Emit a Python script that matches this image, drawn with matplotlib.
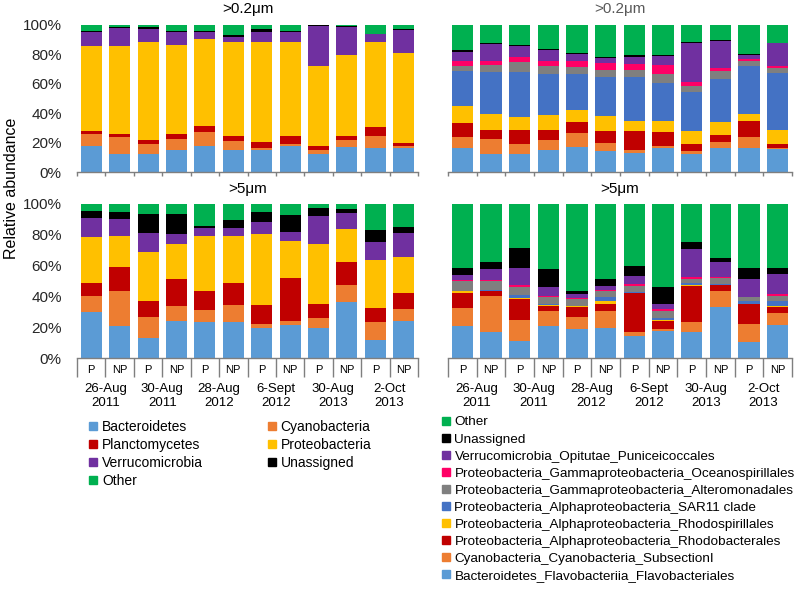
import numpy as np
import matplotlib
matplotlib.use("Agg")
import matplotlib.pyplot as plt
from matplotlib.lines import Line2D
from matplotlib.transforms import blended_transform_factory

plt.rcParams['font.family'] = ['Liberation Sans', 'DejaVu Sans']

# ---- data -----------------------------------------------------------
samples = ['P', 'NP'] * 6
dates = ['26-Aug\n2011', '30-Aug\n2011', '28-Aug\n2012',
         '6-Sept\n2012', '30-Aug\n2013', '2-Oct\n2013']

phyla = ['Bacteroidetes', 'Cyanobacteria', 'Planctomycetes', 'Proteobacteria',
         'Verrucomicrobia', 'Unassigned', 'Other']
phyla_colors = ['#5B9BD5', '#ED7D31', '#C00000', '#FFC000',
                '#7030A0', '#000000', '#00B050']

orders = ['Bacteroidetes_Flavobacteriia_Flavobacteriales',
          'Cyanobacteria_Cyanobacteria_SubsectionI',
          'Proteobacteria_Alphaproteobacteria_Rhodobacterales',
          'Proteobacteria_Alphaproteobacteria_Rhodospirillales',
          'Proteobacteria_Alphaproteobacteria_SAR11 clade',
          'Proteobacteria_Gammaproteobacteria_Alteromonadales',
          'Proteobacteria_Gammaproteobacteria_Oceanospirillales',
          'Verrucomicrobia_Opitutae_Puniceicoccales',
          'Unassigned', 'Other']
order_colors = ['#5B9BD5', '#ED7D31', '#C00000', '#FFC000', '#4472C4',
                '#7F7F7F', '#FF0066', '#7030A0', '#000000', '#00B050']

# one row per bar, columns in the order of `phyla`
phyla_02 = [
    [17.7, 8.4, 1.6, 58.0, 9.3, 0.7, 4.3],
    [12.5, 11.4, 2.2, 59.6, 12.0, 0.7, 1.6],
    [12.5, 6.4, 2.9, 66.6, 8.9, 1.1, 1.6],
    [15.2, 7.3, 3.2, 60.4, 8.9, 0.7, 4.3],
    [17.7, 9.6, 3.8, 59.1, 5.0, 0.7, 4.1],
    [14.8, 6.6, 3.4, 63.6, 3.6, 1.4, 6.6],
    [14.8, 1.6, 3.8, 68.2, 6.8, 1.8, 3.0],
    [17.7, 1.6, 5.0, 64.1, 6.8, 0.9, 3.9],
    [12.5, 2.3, 2.9, 54.3, 27.5, 0.5, 0.0],
    [17.0, 4.6, 3.2, 55.0, 19.1, 0.6, 0.5],
    [16.4, 8.4, 5.9, 57.7, 5.7, 0.0, 5.9],
    [16.0, 1.5, 2.1, 61.1, 15.9, 0.7, 2.7],
]
phyla_5 = [
    [29.6, 10.8, 8.6, 29.4, 12.3, 5.0, 4.3],
    [20.5, 22.7, 15.8, 20.5, 10.8, 4.7, 5.0],
    [13.0, 13.6, 10.1, 32.4, 11.9, 12.5, 6.5],
    [23.8, 9.7, 17.7, 22.9, 6.5, 12.9, 6.5],
    [23.3, 8.0, 12.3, 35.9, 4.7, 1.8, 14.0],
    [23.3, 11.0, 14.3, 30.9, 5.2, 4.9, 10.4],
    [19.4, 2.8, 12.1, 46.0, 7.8, 6.9, 5.0],
    [21.6, 2.2, 28.0, 24.4, 5.9, 10.8, 7.1],
    [19.4, 6.3, 9.5, 38.7, 18.5, 4.8, 2.8],
    [36.3, 10.8, 15.5, 21.2, 10.6, 2.4, 3.2],
    [11.9, 11.4, 9.1, 31.3, 11.9, 7.6, 16.8],
    [23.8, 7.9, 10.8, 22.9, 15.6, 3.9, 15.1],
]
# one row per bar, columns in the order of `orders`
orders_02 = [
    [16.4, 7.2, 10.0, 11.2, 24.1, 3.4, 3.4, 6.1, 0.9, 17.3],
    [12.0, 10.5, 6.4, 10.4, 28.9, 4.5, 2.8, 11.3, 0.7, 12.5],
    [12.5, 6.4, 9.5, 9.3, 30.5, 6.3, 3.9, 7.5, 0.7, 13.4],
    [14.8, 6.8, 6.8, 10.2, 28.0, 5.4, 3.5, 7.5, 0.6, 16.4],
    [17.0, 9.6, 7.5, 8.4, 24.1, 5.0, 3.9, 4.7, 0.7, 19.1],
    [14.1, 5.9, 7.7, 10.5, 26.1, 5.0, 5.0, 3.4, 0.7, 21.6],
    [13.2, 1.6, 12.9, 7.1, 29.5, 5.0, 4.1, 4.6, 1.5, 20.5],
    [16.4, 1.3, 9.6, 7.5, 25.9, 5.9, 6.1, 6.2, 0.9, 20.2],
    [12.0, 2.3, 5.0, 8.4, 26.4, 4.5, 2.8, 26.6, 0.6, 11.4],
    [16.4, 4.1, 4.5, 9.1, 29.1, 5.4, 1.9, 18.6, 0.7, 10.2],
    [16.4, 7.2, 11.2, 4.5, 33.0, 3.2, 1.3, 2.7, 0.5, 20.0],
    [15.5, 0.9, 2.9, 9.1, 39.1, 3.0, 1.5, 15.5, 0.0, 12.5],
]
orders_5 = [
    [21.0, 11.2, 10.3, 1.1, 0.2, 5.9, 1.1, 3.2, 4.7, 41.3],
    [17.1, 22.9, 3.2, 0.6, 0.5, 5.4, 1.1, 7.1, 4.7, 37.4],
    [10.8, 14.0, 13.6, 0.7, 1.9, 5.4, 1.1, 11.2, 13.0, 28.3],
    [21.0, 9.2, 3.3, 0.6, 0.7, 4.7, 0.9, 5.4, 11.9, 42.3],
    [18.8, 7.8, 6.2, 0.7, 0.4, 4.3, 0.9, 2.4, 2.1, 56.4],
    [19.4, 11.3, 4.5, 1.5, 2.6, 3.9, 1.1, 2.6, 4.5, 48.6],
    [14.5, 2.6, 25.0, 0.4, 0.5, 3.9, 1.1, 5.5, 6.3, 40.2],
    [17.3, 1.5, 5.0, 1.0, 1.1, 4.3, 1.5, 3.3, 10.8, 54.2],
    [17.1, 6.4, 23.4, 0.8, 0.9, 2.8, 0.9, 18.5, 4.8, 24.4],
    [33.0, 10.8, 3.3, 0.6, 0.5, 3.6, 1.1, 9.3, 3.0, 34.8],
    [10.4, 11.8, 12.6, 0.4, 1.7, 2.4, 0.6, 11.3, 7.5, 41.3],
    [21.6, 7.6, 3.8, 0.7, 3.0, 3.7, 0.9, 13.3, 4.1, 41.3],
]

# ---- figure ---------------------------------------------------------
W, H = 800, 596
fig = plt.figure(figsize=(W / 100, H / 100), dpi=100)
AXIS_GREY = '#7F7F7F'


def px_axes(x0, x1, ytop, ybot):
    return fig.add_axes([x0 / W, 1 - ybot / H, (x1 - x0) / W, (ybot - ytop) / H])


def stacked(ax, data, colors):
    data = np.array(data)
    x = np.arange(data.shape[0])
    bottom = np.zeros(data.shape[0])
    for k in range(data.shape[1]):
        ax.bar(x, data[:, k], bottom=bottom, width=0.74, color=colors[k],
               linewidth=0)
        bottom += data[:, k]
    ax.set_xlim(-0.5, len(x) - 0.5)
    ax.set_ylim(0, 100)
    for s in ['left', 'right', 'top']:
        ax.spines[s].set_visible(False)
    ax.spines['bottom'].set_color(AXIS_GREY)
    ax.spines['bottom'].set_linewidth(1.0)
    ax.set_yticks([0, 20, 40, 60, 80, 100])
    ax.tick_params(axis='y', length=0, pad=11, labelsize=11, colors='#262626')
    ax.set_xticks(np.arange(-0.5, len(x), 1.0))
    ax.set_xticklabels([])
    ax.tick_params(axis='x', which='major', direction='out', length=3,
                   color=AXIS_GREY, width=1.0)


ax_tl = px_axes(77, 418, 25, 172)
ax_tr = px_axes(448, 792, 25, 172)
ax_bl = px_axes(77, 418, 204, 358)
ax_br = px_axes(448, 792, 204, 358)

stacked(ax_tl, phyla_02, phyla_colors)
stacked(ax_tr, orders_02, order_colors)
stacked(ax_bl, phyla_5, phyla_colors)
stacked(ax_br, orders_5, order_colors)

for ax in (ax_tl, ax_bl):
    ax.set_yticklabels([f'{v}%' for v in range(0, 101, 20)])
for ax in (ax_tr, ax_br):
    ax.set_yticklabels([])

# titles
ax_tl.set_title('>0.2μm', fontsize=11, pad=9, color='#000000')
ax_tr.set_title('>0.2μm', fontsize=11, pad=9, color='#595959')
ax_bl.set_title('>5μm', fontsize=11, pad=8, color='#000000')
ax_br.set_title('>5μm', fontsize=11, pad=8, color='#000000')

# multi-level category axis on the bottom panels
for ax in (ax_bl, ax_br):
    ax.tick_params(axis='x', which='major', length=14, color=AXIS_GREY)
    ax.set_xticks(np.arange(len(samples)), minor=True)
    ax.set_xticklabels(samples, minor=True)
    ax.tick_params(axis='x', which='minor', length=0, pad=5, labelsize=8,
                   colors='#000000')
    tr = blended_transform_factory(ax.transData, ax.transAxes)
    for g, d in enumerate(dates):
        ax.text(2 * g + 0.5, -0.165, d, transform=tr, ha='center', va='top',
                fontsize=9.5, linespacing=1.15)

fig.text(12 / W, 1 - 188 / H, 'Relative abundance', rotation=90,
         ha='center', va='center', fontsize=11.5)

# ---- legends --------------------------------------------------------
def handle(c):
    return Line2D([], [], marker='s', linestyle='none', markersize=5.5,
                  markerfacecolor=c, markeredgecolor=c)


left_idx = [0, 2, 4, 6, 1, 3, 5]
fig.legend([handle(phyla_colors[i]) for i in left_idx],
           [phyla[i] for i in left_idx],
           loc='upper left', bbox_to_anchor=(88 / W, 1 - 420 / H), ncol=2,
           frameon=False, fontsize=10, handlelength=0.7, handletextpad=0.3,
           labelspacing=0.28, columnspacing=4.6, borderpad=0, borderaxespad=0)

fig.legend([handle(c) for c in order_colors[::-1]], orders[::-1],
           loc='upper left', bbox_to_anchor=(441 / W, 1 - 416 / H), ncol=1,
           frameon=False, fontsize=9.7, handlelength=0.7, handletextpad=0.3,
           labelspacing=0.345, borderpad=0, borderaxespad=0)

fig.savefig('out.png', dpi=100)
